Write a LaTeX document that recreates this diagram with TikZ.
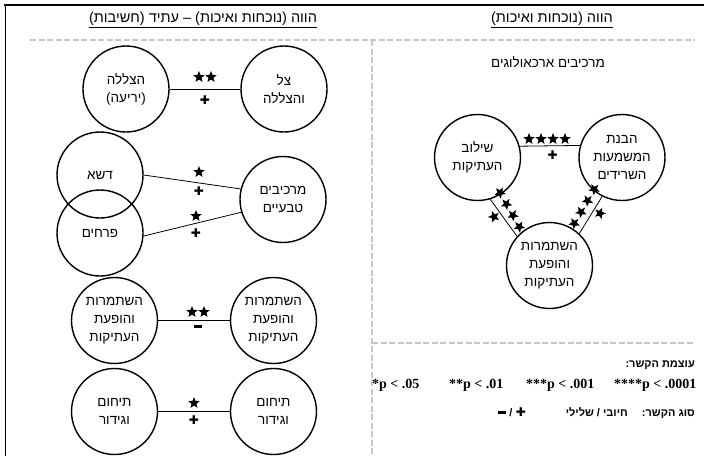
\documentclass[tikz,border=0pt]{standalone}
\usepackage{fontspec}
\setmainfont{Liberation Sans}
\newfontfamily\heb[Script=Hebrew]{Liberation Sans}
\newfontfamily\ser{Liberation Serif}
\newfontfamily\sym{DejaVu Sans}
\TeXXeTstate=1
\usetikzlibrary{shapes.geometric}
\newcommand\hebtext[1]{\beginR #1\endR}
\begin{document}
\begin{tikzpicture}[x=1pt,y=-1pt,
  circ/.style={circle,draw,line width=1.4pt,minimum size=86pt,inner sep=0pt,align=center,
    font=\heb\fontsize{13.5}{18}\selectfont},
  link/.style={line width=0.8pt},
  starmk/.style={star,star points=5,star point ratio=2.3,fill,inner sep=0pt,minimum size=12pt},
  plusmk/.style={font=\sym\fontsize{12}{12}\selectfont,inner sep=0pt},
  minusmk/.style={fill,minimum width=8pt,minimum height=3pt,inner sep=0pt},
  sepline/.style={draw=black!22,dash pattern=on 6pt off 2.5pt,line width=1.2pt},
  headtxt/.style={font=\heb\fontsize{14.5}{16}\selectfont,inner sep=0pt},
  legh/.style={font=\heb\bfseries\fontsize{11}{13}\selectfont,inner sep=0pt},
  legp/.style={font=\ser\bfseries\fontsize{14}{16}\selectfont,inner sep=0pt}
]
\useasboundingbox (0,0) rectangle (704,456);
% frame
\draw[line width=1.6pt] (4,5) -- (704,5);
\draw[line width=1pt] (5,5) -- (5,456);
% separators
\draw[sepline] (30,40) -- (695,40);
\draw[sepline] (372,40) -- (372,456);
\draw[sepline] (372,343) -- (695,343);
% headers
\node[headtxt] (hL) at (203,20) {\underline{\hebtext{הווה (נוכחות ואיכות) – עתיד (חשיבות)}}};
\node[headtxt] (hR) at (552,20) {\underline{\hebtext{הווה (נוכחות ואיכות)}}};

% ---------- left panel ----------
\node[circ] (a1) at (126,89) {\hebtext{הצללה}\\\hebtext{(יריעה)}};
\node[circ] (a2) at (284,89) {\hebtext{צל}\\\hebtext{והצללה}};
\draw[link] (a1) -- (a2);
\node[starmk] (s1a) at (199,77) {};
\node[starmk] (s1b) at (211,77) {};
\node[plusmk] (p1) at (205,100) {✚};

\node[circ] (dsha) at (100,175) {\hebtext{דשא}};
\node[circ] (prch) at (100,233) {\hebtext{פרחים}};
\node[circ] (mrk) at (283,199.5) {\hebtext{מרכיבים}\\\hebtext{טבעיים}};
\draw[link] (dsha.east) -- (mrk.166);
\draw[link] (prch.-4) -- (mrk.-163);
\node[starmk] (s2) at (199,172) {};
\node[plusmk] (p2) at (199,191) {✚};
\node[starmk] (s3) at (196,216) {};
\node[plusmk] (p3) at (196,233) {✚};

\node[circ] (b1) at (114.5,320.5) {\hebtext{השתמרות}\\\hebtext{והופעת}\\\hebtext{העתיקות}};
\node[circ] (b2) at (273.5,320.5) {\hebtext{השתמרות}\\\hebtext{והופעת}\\\hebtext{העתיקות}};
\draw[link] (b1) -- (b2);
\node[starmk] (s4a) at (192,312) {};
\node[starmk] (s4b) at (204,312) {};
\node[minusmk] (n4) at (198,326) {};

\node[circ] (c1) at (114.5,411.5) {\hebtext{תיחום}\\\hebtext{וגידור}};
\node[circ] (c2) at (273.5,411.5) {\hebtext{תיחום}\\\hebtext{וגידור}};
\draw[link] (c1) -- (c2);
\node[starmk] (s5) at (194,403) {};
\node[plusmk] (p5) at (194,420) {✚};

% ---------- right panel ----------
\node[font=\heb\fontsize{13.5}{15}\selectfont] (ttl) at (548,62) {\hebtext{מרכיבים ארכאולוגים}};
\node[circ] (sh) at (477.5,157.5) {\hebtext{שילוב}\\\hebtext{העתיקות}};
\node[circ] (hb) at (622,157.5) {\hebtext{הבנת}\\\hebtext{המשמעות}\\\hebtext{השרידים}};
\node[circ] (hs) at (549.5,265.5) {\hebtext{השתמרות}\\\hebtext{והופעת}\\\hebtext{העתיקות}};
\draw[link] (sh.15.5) -- (hb.164.5);
\draw[link] (sh.-73) -- (hs.138.6);
\draw[link] (hb.-117) -- (hs.47.6);
\foreach \i/\x in {1/529,2/541,3/553,4/565}{\node[starmk] (st\i) at (\x,139) {};}
\node[plusmk] (pt) at (552.7,155) {✚};
\foreach \i/\x/\y in {1/500/192.7,2/506.4/204,3/512.9/215.3,4/519.3/226.7}{\node[starmk,rotate=-30] (sl\i) at (\x,\y) {};}
\node[starmk,rotate=20] (slo) at (494,216.7) {};
\foreach \i/\x/\y in {1/594.3/189.3,2/587.6/200.6,3/581/212,4/574.3/223.3}{\node[starmk,rotate=30] (sr\i) at (\x,\y) {};}
\node[starmk,rotate=-20] (sro) at (600,213.3) {};

% ---------- legend ----------
\node[legh,anchor=base east] (lg1) at (695,367) {\hebtext{עוצמת הקשר:}};
\node[legp,anchor=base west] (q1) at (372,388) {*p < .05};
\node[legp,anchor=base west] (q2) at (449,388) {**p < .01};
\node[legp,anchor=base west] (q3) at (526,388) {***p < .001};
\node[legp,anchor=base west] (q4) at (614,388) {****p < .0001};
\node[legh,anchor=base east] (lg2) at (695,416) {\hebtext{סוג הקשר:}};
\node[legh,anchor=base east] (lg3) at (628,416) {\hebtext{חיובי / שלילי}};
\node[plusmk] (lgp) at (521,412) {✚};
\node[legh,anchor=base] (lgs) at (511,416) {/};
\node[minusmk] (lgn) at (502,412) {};
\end{tikzpicture}
\end{document}
